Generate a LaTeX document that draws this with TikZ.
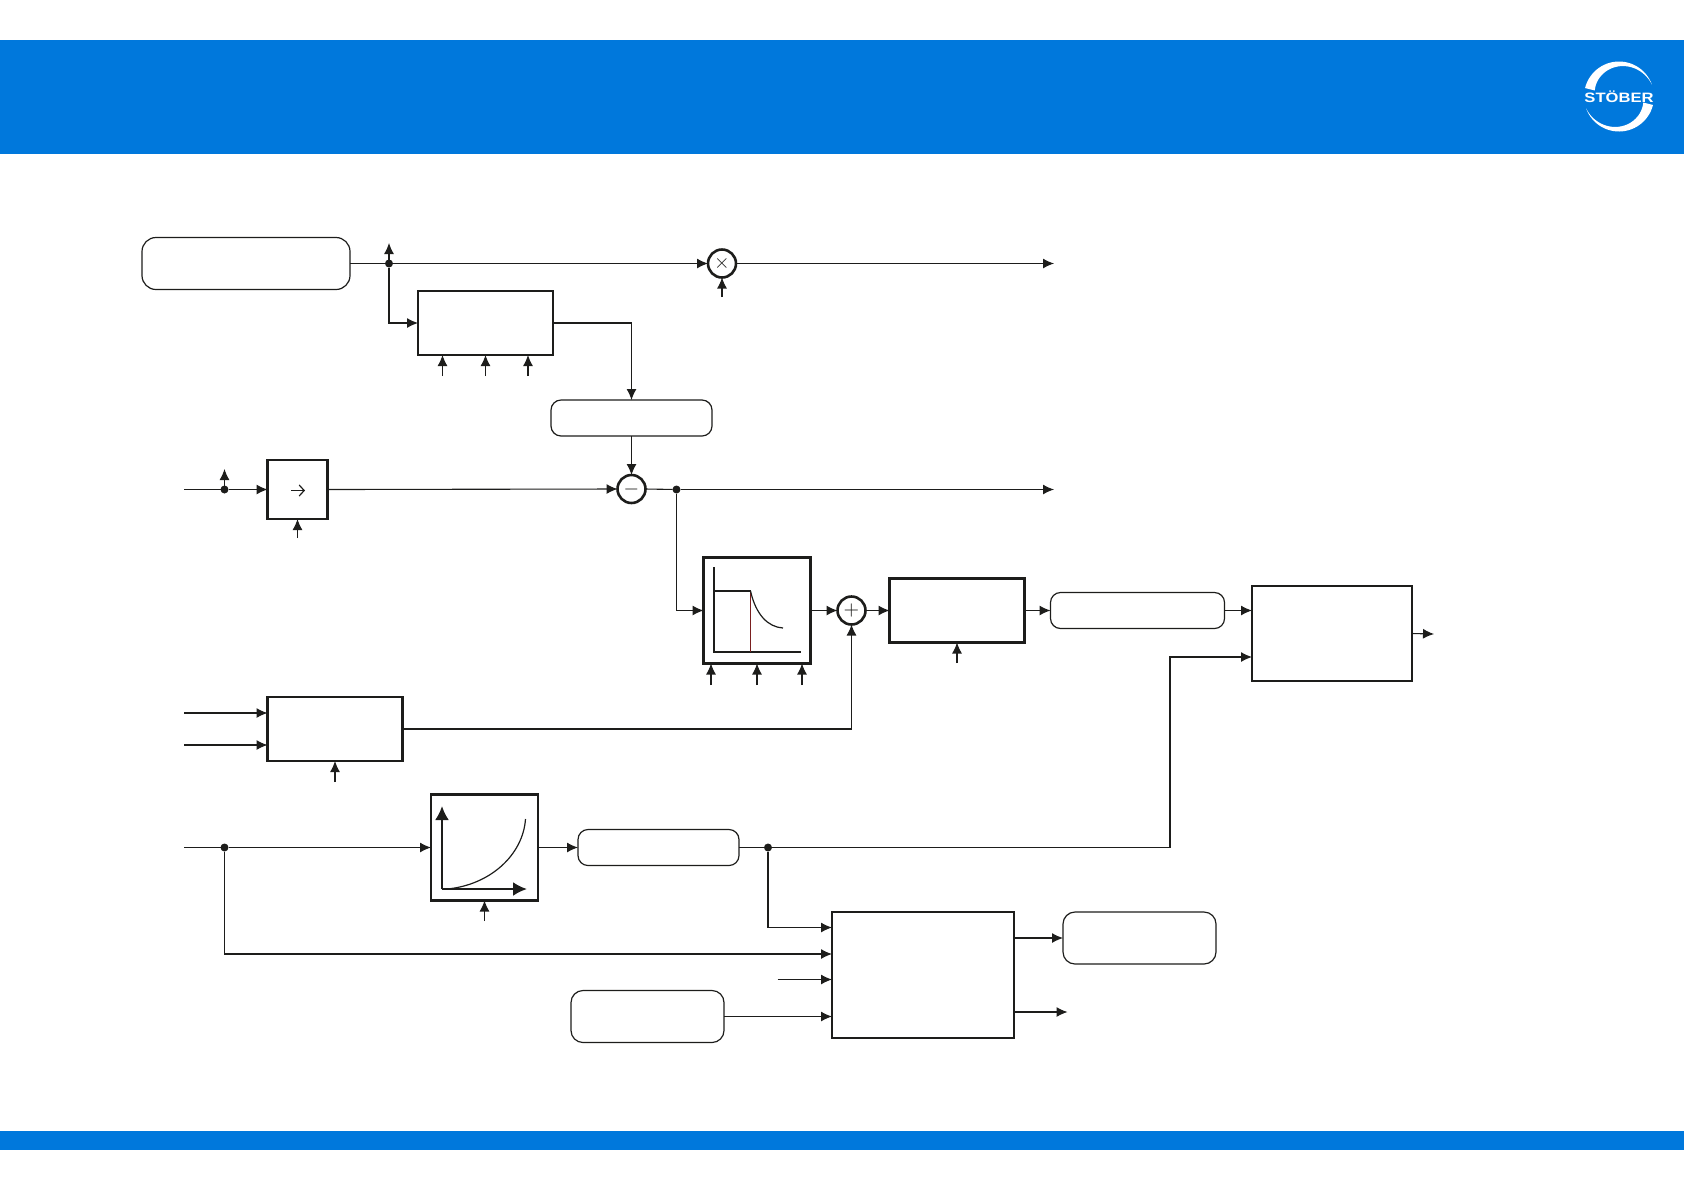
\documentclass[tikz,border=0pt]{standalone}
\usepackage{fontspec}
\setmainfont{Liberation Sans}
\usetikzlibrary{arrows.meta, positioning, calc}
\definecolor{barblue}{HTML}{0078DC}
\definecolor{inkdark}{HTML}{1D1D1B}
\definecolor{markred}{HTML}{7A1F1F}
\begin{document}
\begin{tikzpicture}[
  x=0.5pt, y=-0.5pt,
  every node/.style={outer sep=0pt, inner sep=0pt},
  ctrlblock/.style={rectangle, draw=inkdark, line width=1.25pt, minimum width=67.5pt, minimum height=32pt},
  plotblock/.style={rectangle, draw=inkdark, line width=1.25pt, minimum width=53.5pt, minimum height=53pt},
  roundwide/.style={rectangle, rounded corners=5pt, draw=inkdark, line width=0.6pt, minimum width=80.5pt, minimum height=18pt},
  roundtall/.style={rectangle, rounded corners=6pt, draw=inkdark, line width=0.6pt, minimum width=76.5pt, minimum height=26pt},
  opcircle/.style={circle, draw=inkdark, line width=1.3pt, minimum size=14pt, text=inkdark},
  junction/.style={circle, fill=inkdark, minimum size=4pt},
  arrow/.style={-{Latex[length=5.5pt,width=5pt]}, line width=0.55pt, color=inkdark},
  wire/.style={line width=0.55pt, color=inkdark},
  axisline/.style={line width=1.2pt, color=inkdark},
  bigaxis/.style={-{Latex[length=7pt,width=7pt]}, line width=1.2pt, color=inkdark},
  curveline/.style={line width=0.6pt, color=inkdark}
]
\useasboundingbox (0,0) rectangle (1684,1190);
\fill[barblue] (0,40) rectangle (1684,154);
\fill[barblue] (0,1131) rectangle (1684,1150);
\node[font=\bfseries\fontsize{6.8}{8}\selectfont, text=white, xscale=1.22] (logo) at (1619,96.5) {STÖBER};
\begin{scope}[shift={(1619,96.5)}, yscale=-1]
  \fill[white] plot[domain=166:20,samples=30] (\x:35) -- plot[domain=20:166,samples=30] (\x:{35-10*(\x-20)/146}) -- cycle;
  \fill[white, rotate=180] plot[domain=166:20,samples=30] (\x:35) -- plot[domain=20:166,samples=30] (\x:{35-10*(\x-20)/146}) -- cycle;
\end{scope}

\node[roundtall, minimum width=104pt, rounded corners=7pt] (setpoint) at (246,263.5) {};
\node[junction] (jtop) at (389,263.5) {};
\node[opcircle] (mult) at (722,263.5) {$\times$};
\node[ctrlblock] (limit) at (485.5,323) {};
\node[roundwide] (offset) at (631.5,418) {};
\node[opcircle, below=19.5pt of offset] (minus) {$-$};
\node[plotblock, minimum width=30pt, minimum height=29.5pt] (ramp) at (297.5,489.5) {};
\node[junction] (jin) at (224.5,489.5) {};
\node[junction] (jerr) at (676.5,489.5) {};
\node[plotblock] (charact) at (757,610.5) {};
\node[opcircle, right=13.5pt of charact] (plus) {$+$};
\node[ctrlblock, right=12pt of plus] (filter) {};
\node[roundwide, minimum width=87pt, right=13pt of filter] (torque) {};
\node[rectangle, draw=inkdark, line width=1.25pt, minimum width=80pt, minimum height=47.5pt] (output) at (1332,633.5) {};
\node[ctrlblock] (feed) at (335,729) {};
\node[plotblock] (curve) at (484.5,847.5) {};
\node[junction] (jspeed) at (224.5,847.5) {};
\node[roundwide, right=20pt of curve] (power) {};
\node[junction] (jpower) at (768,847.5) {};
\node[rectangle, draw=inkdark, line width=1.25pt, minimum width=91pt, minimum height=63pt] (model) at (923,975) {};
\node[roundtall] (result) at (1139.5,938) {};
\node[roundtall] (source) at (647.5,1016.5) {};

\coordinate (jtopup) at (389,243);
\coordinate (multin) at (722,297);
\coordinate (topout) at (1054,263.5);
\coordinate (limita) at (442.5,376);
\coordinate (limitb) at (485.5,376);
\coordinate (limitc) at (528,376);
\coordinate (rampin) at (184,489.5);
\coordinate (jinup) at (224.5,469);
\coordinate (rampsel) at (297.5,538);
\coordinate (errout) at (1054,489.5);
\coordinate (chara) at (711,685);
\coordinate (charb) at (757,685);
\coordinate (charc) at (802,685);
\coordinate (filtersel) at (957,663);
\coordinate (outputend) at (1434,634);
\coordinate (feeda) at (184,713);
\coordinate (feedb) at (184,745);
\coordinate (feedsel) at (335,782);
\coordinate (speedin) at (184,847.5);
\coordinate (curvesel) at (484.5,921);
\coordinate (modelin) at (777.5,979.5);
\coordinate (modelout) at (1067.5,1012);

\draw[wire] (setpoint.east) -- (jtop);
\draw[arrow] (jtop) -- (jtopup);
\draw[arrow] (jtop) -- (mult.west);
\draw[arrow] (multin) -- (mult.south);
\draw[arrow] (mult.east) -- (topout);
\draw[arrow] (jtop) |- (limit.west);
\draw[arrow] (limita) -- (limita |- limit.south);
\draw[arrow] (limitb) -- (limitb |- limit.south);
\draw[arrow] (limitc) -- (limitc |- limit.south);
\draw[arrow] (limit.east) -| (offset.north);
\draw[arrow] (offset.south) -- (minus.north);
\draw[wire] (rampin) -- (jin);
\draw[arrow] (jin) -- (jinup);
\draw[arrow] (jin) -- (ramp.west);
\draw[arrow] (rampsel) -- (ramp.south);
\draw[arrow] (ramp.east) -- (minus.west);
\draw[wire] (minus.east) -- (jerr);
\draw[arrow] (jerr) -- (errout);
\draw[arrow] (jerr) |- (charact.west);
\draw[arrow] (chara) -- (chara |- charact.south);
\draw[arrow] (charb) -- (charb |- charact.south);
\draw[arrow] (charc) -- (charc |- charact.south);
\draw[arrow] (charact.east) -- (plus.west);
\draw[arrow] (plus.east) -- (filter.west);
\draw[arrow] (filtersel) -- (filtersel |- filter.south);
\draw[arrow] (filter.east) -- (torque.west);
\draw[arrow] (torque.east) -- (torque.east -| output.west);
\draw[arrow] (output.east) -- (outputend);
\draw[arrow] (feeda) -- (feeda -| feed.west);
\draw[arrow] (feedb) -- (feedb -| feed.west);
\draw[arrow] (feedsel) -- (feed.south);
\draw[arrow] (feed.east) -| (plus.south);
\draw[wire] (speedin) -- (jspeed);
\draw[arrow] (jspeed) -- (curve.west);
\draw[arrow] (curvesel) -- (curve.south);
\draw[arrow] (curve.east) -- (power.west);
\draw[wire] (power.east) -- (jpower);
\draw[arrow] (jpower) -| (1170,657) -- (1170,657 -| output.west);
\draw[arrow] (jpower) |- (model.west |- 0,927.5);
\draw[arrow] (jspeed) |- (model.west |- 0,954);
\draw[arrow] (modelin) -- (modelin -| model.west);
\draw[arrow] (source.east) -- (source.east -| model.west);
\draw[arrow] (model.east |- result.west) -- (result.west);
\draw[arrow] (model.east |- modelout) -- (modelout);

\draw[-{Straight Barb[length=2.5pt,width=5.5pt]}, line width=0.6pt, color=inkdark] (291,490.5) -- (305,490.5);
\draw[axisline] (714,567) -- (714,652) -- (801,652);
\draw[curveline] (714,591) -- (750.5,591);
\draw[markred, line width=0.4pt] (750.5,591) -- (750.5,652);
\draw[curveline] (750.5,591) .. controls (756,615) and (768,627) .. (783,628);
\draw[bigaxis] (442,889) -- (442,806);
\draw[bigaxis] (441.5,889) -- (527,889);
\draw[curveline] (447,889) .. controls (490,885) and (523,855) .. (525.5,819);
\end{tikzpicture}
\end{document}
